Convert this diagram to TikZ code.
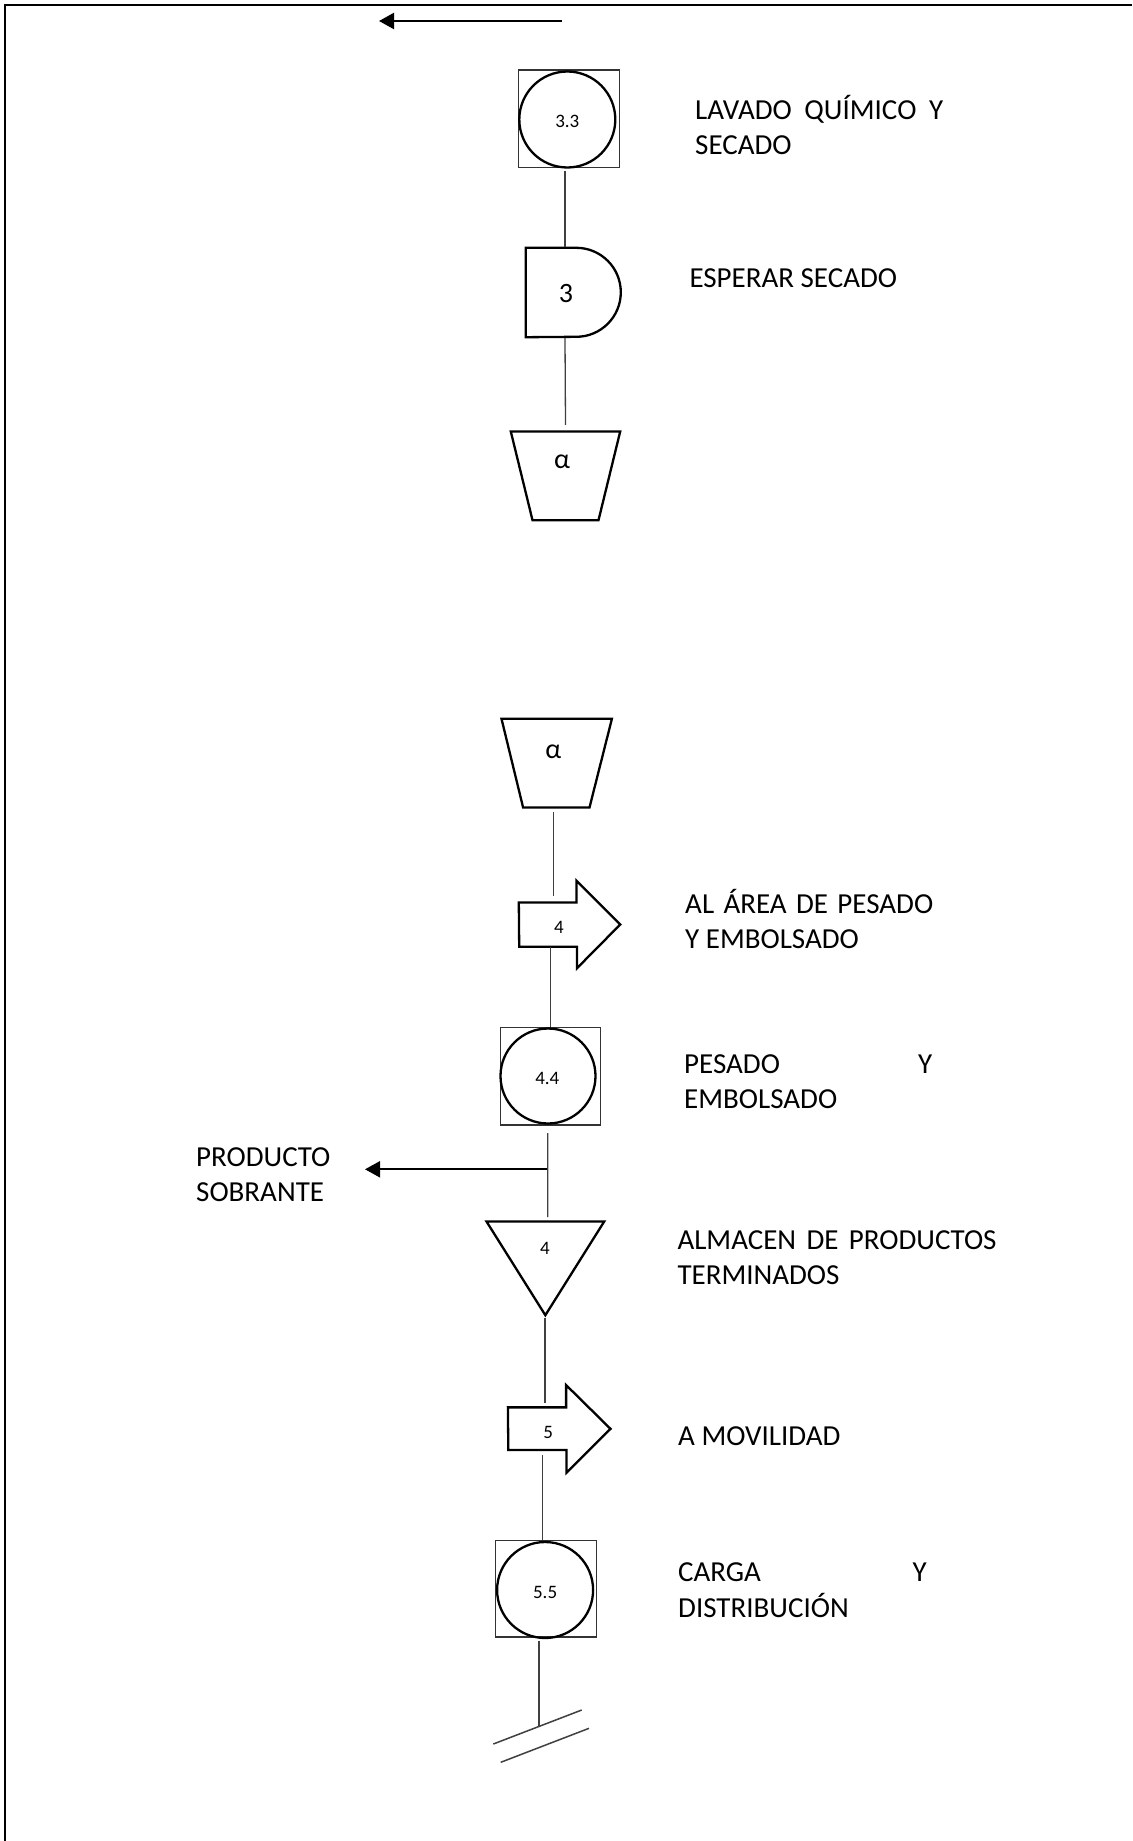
\documentclass[tikz,border=0pt]{standalone}
\usepackage{fontspec}
\setmainfont{Carlito}
\usetikzlibrary{arrows.meta,calc}

\tikzset{
  symb/.style={draw, line width=2.3pt, line join=miter},
  frame/.style={draw=black!80, line width=1.1pt},
  ghost/.style={draw=none, inner sep=0pt},
  link/.style={draw=black!75, line width=1.3pt},
  flowarrow/.style={draw, line width=2.1pt, -{Triangle[length=15pt,width=16pt]}},
  txt/.style={inner sep=0pt, anchor=base west, font=\fontsize{29}{35}\selectfont},
  num/.style={inner sep=0pt, font=\fontsize{19}{22}\selectfont},
  bignum/.style={inner sep=0pt, font=\fontsize{28}{32}\selectfont},
}

\begin{document}
\begin{tikzpicture}[x=1pt, y=-1pt]
\useasboundingbox (0,0) rectangle (1132,1841);

% page frame (left and top)
\draw[line width=2.2pt] (5,1841) -- (5,5) -- (1132,5);

% incoming flow arrow at the top
\coordinate (inR) at (562,21);
\coordinate (inL) at (379,21);
\draw[flowarrow] (inR) -- (inL);

% ---- operation 3.3 ----
\node[frame, minimum width=100.6pt, minimum height=97.3pt, inner sep=0pt] (b33) at (569,118.7) {};
\node[symb, circle, minimum size=96pt, inner sep=0pt] (c33) at (567.3,119.5) {};
\node[num] (n33) at (567.3,121) {3.3};
\node[txt] (t33a) at (695,119.3) {\makebox[248pt][s]{LAVADO QUÍMICO Y}};
\node[txt] (t33b) at (695,154) {SECADO};

% ---- delay 3 ----
\node[ghost, minimum width=95pt, minimum height=89pt] (d3) at (573.5,292.5) {};
\draw[symb] (d3.north west) -- ++(50.5,0) arc[start angle=90, end angle=-90, radius=44.5pt]
  -- (d3.south west) -- cycle;
\node[bignum] (n3) at (566,294) {3};
\node[txt] (t3) at (689.3,287.3) {ESPERAR SECADO};

% ---- connector alpha (out) ----
\node[ghost, minimum width=109pt, minimum height=88.3pt] (a1) at (565.5,475.85) {};
\draw[symb] (a1.north west) -- (a1.north east) -- ([xshift=-21.7pt]a1.south east)
  -- ([xshift=21.7pt]a1.south west) -- cycle;
\node[bignum] (na1) at (562,462) {α};

% ---- connector alpha (in) ----
\node[ghost, minimum width=110pt, minimum height=88.3pt] (a2) at (556.7,763.15) {};
\draw[symb] (a2.north west) -- (a2.north east) -- ([xshift=-22.4pt]a2.south east)
  -- ([xshift=21.6pt]a2.south west) -- cycle;
\node[bignum] (na2) at (553.3,752) {α};

% ---- transport 4 ----
\node[ghost, minimum width=101pt, minimum height=87.6pt] (ar4) at (569.5,924.5) {};
\draw[symb] ($(ar4.west)+(0,-22)$) -- ++(57.7,0) -- ++(0,-21.8) -- (ar4.east)
  -- ++(-43.3,43.8) -- ++(0,-21.6) -- ++(-57.7,0) -- cycle;
\node[num] (n4a) at (559,927) {4};
\node[txt] (t4a) at (685,913.3) {\makebox[248pt][s]{AL ÁREA DE PESADO}};
\node[txt] (t4b) at (685,948.3) {Y EMBOLSADO};

% ---- operation 4.4 ----
\node[frame, minimum width=100pt, minimum height=97.7pt, inner sep=0pt] (b44) at (550.7,1076.15) {};
\node[symb, circle, minimum size=95pt, inner sep=0pt] (c44) at (548,1076) {};
\node[num] (n44) at (547.3,1078) {4.4};
\node[txt] (t44a) at (684,1073.3) {\makebox[248pt][s]{PESADO Y}};
\node[txt] (t44b) at (684,1108.3) {EMBOLSADO};

% ---- surplus branch ----
\coordinate (split) at (547.7,1169.3);
\coordinate (sobr) at (365,1169.3);
\draw[flowarrow] (split) -- (sobr);
\node[txt] (tsa) at (196,1166.7) {PRODUCTO};
\node[txt] (tsb) at (196,1201.7) {SOBRANTE};

% ---- storage 4 ----
\node[ghost, minimum width=117.3pt, minimum height=93.3pt] (tri) at (545.35,1268.35) {};
\draw[symb] (tri.north west) -- (tri.north east) -- (tri.south) -- cycle;
\node[num] (n4b) at (545,1248) {4};
\node[txt] (t4c) at (677.3,1249.3) {\makebox[319pt][s]{ALMACEN DE PRODUCTOS}};
\node[txt] (t4d) at (677.3,1284) {TERMINADOS};

% ---- transport 5 ----
\node[ghost, minimum width=102.2pt, minimum height=87.7pt] (ar5) at (559.2,1428.85) {};
\draw[symb] ($(ar5.west)+(0,-21.5)$) -- ++(58.2,0) -- ++(0,-22.3) -- (ar5.east)
  -- ++(-44,43.8) -- ++(0,-22.7) -- ++(-58.2,0) -- cycle;
\node[num] (n5) at (548.3,1432) {5};
\node[txt] (t5) at (678,1445) {A MOVILIDAD};

% ---- operation 5.5 ----
\node[frame, minimum width=101.2pt, minimum height=96.3pt, inner sep=0pt] (b55) at (546.3,1588.85) {};
\node[symb, circle, minimum size=96pt, inner sep=0pt] (c55) at (545.1,1590) {};
\node[num] (n55) at (545.1,1592) {5.5};
\node[txt] (t55a) at (678,1581.7) {\makebox[248.5pt][s]{CARGA Y}};
\node[txt] (t55b) at (678,1617.3) {DISTRIBUCIÓN};

% ---- end of process ----
\coordinate (endpt) at (539,1726.4);
\coordinate (e1a) at (493.3,1744);
\coordinate (e1b) at (581.7,1710);
\coordinate (e2a) at (500.7,1762.3);
\coordinate (e2b) at (589,1728.3);
\draw[link, line width=1.5pt] (e1a) -- (e1b);
\draw[link, line width=1.5pt] (e2a) -- (e2b);

% ---- flow line ----
\draw[link] ([xshift=-4pt,yshift=-3.4pt]b33.south) -- ([xshift=-8.5pt,yshift=1pt]d3.north);
\draw[link] ([xshift=-8.5pt,yshift=-1pt]d3.south) -- ([yshift=6.7pt]a1.north);
\draw[link] ([xshift=-3.4pt,yshift=-4.4pt]a2.south) -- ([xshift=-16.2pt,yshift=-15.3pt]ar4.north);
\draw[link] ([xshift=-18.8pt,yshift=-22.5pt]ar4.center) -- (b44.north);
\draw[link] ([xshift=-3pt,yshift=-7.5pt]b44.south) -- ([xshift=2.35pt,yshift=4.4pt]tri.north);
\draw[link] ([xshift=-0.35pt,yshift=-3pt]tri.south) -- ([xshift=-14.2pt,yshift=-18.3pt]ar5.north);
\draw[link] ([xshift=-16.9pt,yshift=-26pt]ar5.center) -- ([xshift=-4pt]b55.north);
\draw[link] ([xshift=-7.3pt,yshift=-3pt]b55.south) -- (endpt);
\end{tikzpicture}
\end{document}
